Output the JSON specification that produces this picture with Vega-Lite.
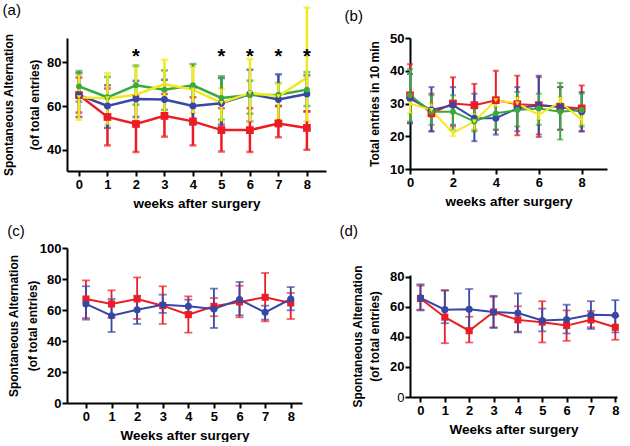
{
  "$schema": "https://vega.github.io/schema/vega-lite/v6.json",
  "padding": {"left": 2, "top": 3, "right": 0, "bottom": 0},
  "data": {"values": [
    {"p":"a","g":"G1","w":0,"m":65,"lo":57,"hi":73},
    {"p":"a","g":"G1","w":1,"m":55,"lo":42,"hi":68},
    {"p":"a","g":"G1","w":2,"m":51.8,"lo":39,"hi":64.5},
    {"p":"a","g":"G1","w":3,"m":55.5,"lo":46,"hi":65.5},
    {"p":"a","g":"G1","w":4,"m":53,"lo":42,"hi":64},
    {"p":"a","g":"G1","w":5,"m":49,"lo":39.2,"hi":59},
    {"p":"a","g":"G1","w":6,"m":49,"lo":39,"hi":59},
    {"p":"a","g":"G1","w":7,"m":52,"lo":45.7,"hi":60},
    {"p":"a","g":"G1","w":8,"m":50,"lo":40,"hi":57.6},
    {"p":"a","g":"G2","w":0,"m":65,"lo":55,"hi":75},
    {"p":"a","g":"G2","w":1,"m":60,"lo":50,"hi":69.5},
    {"p":"a","g":"G2","w":2,"m":63.2,"lo":55,"hi":71.5},
    {"p":"a","g":"G2","w":3,"m":63,"lo":54.5,"hi":72},
    {"p":"a","g":"G2","w":4,"m":60,"lo":51.5,"hi":68.5},
    {"p":"a","g":"G2","w":5,"m":61.3,"lo":51.5,"hi":72.8},
    {"p":"a","g":"G2","w":6,"m":65.5,"lo":53,"hi":76.6},
    {"p":"a","g":"G2","w":7,"m":63,"lo":51.5,"hi":74.5},
    {"p":"a","g":"G2","w":8,"m":65.5,"lo":57.5,"hi":74},
    {"p":"a","g":"G3","w":0,"m":69,"lo":62,"hi":76},
    {"p":"a","g":"G3","w":1,"m":64,"lo":55,"hi":73.3},
    {"p":"a","g":"G3","w":2,"m":69.5,"lo":60.6,"hi":78.5},
    {"p":"a","g":"G3","w":3,"m":67.5,"lo":58.3,"hi":76.3},
    {"p":"a","g":"G3","w":4,"m":69.5,"lo":60,"hi":79.2},
    {"p":"a","g":"G3","w":5,"m":63.7,"lo":53.7,"hi":73.6},
    {"p":"a","g":"G3","w":6,"m":65,"lo":56.5,"hi":71.6},
    {"p":"a","g":"G3","w":7,"m":65.2,"lo":60,"hi":70.5},
    {"p":"a","g":"G3","w":8,"m":67.5,"lo":60,"hi":75.5},
    {"p":"a","g":"G4","w":0,"m":64,"lo":53.7,"hi":74.4},
    {"p":"a","g":"G4","w":1,"m":63.5,"lo":51.5,"hi":75},
    {"p":"a","g":"G4","w":2,"m":65.2,"lo":52,"hi":78},
    {"p":"a","g":"G4","w":3,"m":70,"lo":57,"hi":81.2},
    {"p":"a","g":"G4","w":4,"m":67.5,"lo":56.8,"hi":78},
    {"p":"a","g":"G4","w":5,"m":61.4,"lo":53,"hi":68},
    {"p":"a","g":"G4","w":6,"m":66,"lo":53,"hi":81.5},
    {"p":"a","g":"G4","w":7,"m":64.5,"lo":54,"hi":70.5},
    {"p":"a","g":"G4","w":8,"m":73,"lo":53,"hi":105},

    {"p":"b","g":"G1","w":0,"m":32.5,"lo":24,"hi":42},
    {"p":"b","g":"G1","w":1,"m":27,"lo":21.5,"hi":33},
    {"p":"b","g":"G1","w":2,"m":30,"lo":23,"hi":38},
    {"p":"b","g":"G1","w":3,"m":29.5,"lo":22,"hi":36},
    {"p":"b","g":"G1","w":4,"m":31,"lo":22,"hi":40},
    {"p":"b","g":"G1","w":5,"m":29.8,"lo":20.3,"hi":38.5},
    {"p":"b","g":"G1","w":6,"m":29.5,"lo":19.8,"hi":38},
    {"p":"b","g":"G1","w":7,"m":29,"lo":22,"hi":35},
    {"p":"b","g":"G1","w":8,"m":28.5,"lo":21.5,"hi":35.5},
    {"p":"b","g":"G2","w":0,"m":31.5,"lo":24,"hi":39},
    {"p":"b","g":"G2","w":1,"m":28,"lo":21.5,"hi":35},
    {"p":"b","g":"G2","w":2,"m":29.5,"lo":23.5,"hi":35},
    {"p":"b","g":"G2","w":3,"m":25.5,"lo":18.5,"hi":33},
    {"p":"b","g":"G2","w":4,"m":25.5,"lo":20.5,"hi":31},
    {"p":"b","g":"G2","w":5,"m":28.5,"lo":21.5,"hi":35},
    {"p":"b","g":"G2","w":6,"m":29.5,"lo":20.5,"hi":38.5},
    {"p":"b","g":"G2","w":7,"m":29,"lo":22,"hi":35},
    {"p":"b","g":"G2","w":8,"m":27.5,"lo":21.5,"hi":33.5},
    {"p":"b","g":"G3","w":0,"m":32.5,"lo":24.5,"hi":40.5},
    {"p":"b","g":"G3","w":1,"m":27.5,"lo":23.5,"hi":32.5},
    {"p":"b","g":"G3","w":2,"m":27.5,"lo":22,"hi":32.5},
    {"p":"b","g":"G3","w":3,"m":24.5,"lo":21.5,"hi":28.5},
    {"p":"b","g":"G3","w":4,"m":27,"lo":22,"hi":31.5},
    {"p":"b","g":"G3","w":5,"m":28,"lo":23,"hi":33.5},
    {"p":"b","g":"G3","w":6,"m":28.5,"lo":23.5,"hi":33},
    {"p":"b","g":"G3","w":7,"m":27.5,"lo":19,"hi":36.3},
    {"p":"b","g":"G3","w":8,"m":28,"lo":23,"hi":33},
    {"p":"b","g":"G4","w":0,"m":30,"lo":27,"hi":33},
    {"p":"b","g":"G4","w":1,"m":28,"lo":26,"hi":30},
    {"p":"b","g":"G4","w":2,"m":21,"lo":20,"hi":22},
    {"p":"b","g":"G4","w":3,"m":24.5,"lo":22,"hi":27},
    {"p":"b","g":"G4","w":4,"m":31,"lo":29,"hi":32},
    {"p":"b","g":"G4","w":5,"m":30,"lo":28,"hi":32},
    {"p":"b","g":"G4","w":6,"m":26.5,"lo":25,"hi":28},
    {"p":"b","g":"G4","w":7,"m":30.5,"lo":29,"hi":32},
    {"p":"b","g":"G4","w":8,"m":25,"lo":23.5,"hi":26.5},

    {"p":"c","g":"H1","w":0,"m":67.1,"lo":54.8,"hi":79.1},
    {"p":"c","g":"H1","w":1,"m":63.9,"lo":55,"hi":72.7},
    {"p":"c","g":"H1","w":2,"m":67.1,"lo":54.2,"hi":81},
    {"p":"c","g":"H1","w":3,"m":62.8,"lo":51,"hi":75.3},
    {"p":"c","g":"H1","w":4,"m":57,"lo":45.4,"hi":68.8},
    {"p":"c","g":"H1","w":5,"m":62.4,"lo":56,"hi":67.7},
    {"p":"c","g":"H1","w":6,"m":65.2,"lo":55.3,"hi":75.7},
    {"p":"c","g":"H1","w":7,"m":68.2,"lo":52.7,"hi":83.9},
    {"p":"c","g":"H1","w":8,"m":64.5,"lo":54.2,"hi":71},
    {"p":"c","g":"H2","w":0,"m":63.9,"lo":53.8,"hi":75.3},
    {"p":"c","g":"H2","w":1,"m":56.3,"lo":45.8,"hi":67.1},
    {"p":"c","g":"H2","w":2,"m":60.2,"lo":51,"hi":69.2},
    {"p":"c","g":"H2","w":3,"m":63.4,"lo":58.1,"hi":69.9},
    {"p":"c","g":"H2","w":4,"m":62.4,"lo":58.5,"hi":66.7},
    {"p":"c","g":"H2","w":5,"m":60.6,"lo":48.4,"hi":73.8},
    {"p":"c","g":"H2","w":6,"m":66.7,"lo":56.6,"hi":78.1},
    {"p":"c","g":"H2","w":7,"m":58.5,"lo":53.8,"hi":62.8},
    {"p":"c","g":"H2","w":8,"m":67.1,"lo":59.8,"hi":74.8},

    {"p":"d","g":"H1","w":0,"m":65.4,"lo":58,"hi":73.9},
    {"p":"d","g":"H1","w":1,"m":53,"lo":35.7,"hi":71},
    {"p":"d","g":"H1","w":2,"m":44,"lo":36.2,"hi":53.3},
    {"p":"d","g":"H1","w":3,"m":56.4,"lo":46.3,"hi":66.5},
    {"p":"d","g":"H1","w":4,"m":51.2,"lo":43.4,"hi":60.2},
    {"p":"d","g":"H1","w":5,"m":49.7,"lo":36.2,"hi":63.6},
    {"p":"d","g":"H1","w":6,"m":47.4,"lo":37.3,"hi":57.5},
    {"p":"d","g":"H1","w":7,"m":51.2,"lo":46.3,"hi":57.1},
    {"p":"d","g":"H1","w":8,"m":46.3,"lo":38,"hi":53.7},
    {"p":"d","g":"H2","w":0,"m":65.8,"lo":57.5,"hi":74.8},
    {"p":"d","g":"H2","w":1,"m":58,"lo":49,"hi":70.6},
    {"p":"d","g":"H2","w":2,"m":58.2,"lo":45,"hi":71.7},
    {"p":"d","g":"H2","w":3,"m":56.4,"lo":45.8,"hi":67.2},
    {"p":"d","g":"H2","w":4,"m":55.7,"lo":42.9,"hi":68.8},
    {"p":"d","g":"H2","w":5,"m":50.8,"lo":43.6,"hi":58.7},
    {"p":"d","g":"H2","w":6,"m":51.5,"lo":42.2,"hi":61.3},
    {"p":"d","g":"H2","w":7,"m":54.6,"lo":45.2,"hi":63.6},
    {"p":"d","g":"H2","w":8,"m":54.2,"lo":42.9,"hi":64.3}
  ]},
  "columns": 2,
  "align": {"row": "none", "column": "each"},
  "spacing": {"row": -8, "column": 13},
  "concat": [
    {
      "width": 259, "height": 133,
      "title": {"text": "(a)", "dx": 0, "offset": -12},
      "transform": [{"filter": "datum.p === 'a'"}],
      "encoding": {
        "x": {"field": "w", "type": "quantitative", "scale": {"domain": [-0.42, 8.67], "nice": false, "zero": false}, "axis": {"values": [0,1,2,3,4,5,6,7,8], "format": "d", "title": "weeks after surgery"}},
        "y": {"field": "m", "type": "quantitative", "scale": {"domain": [30.3, 91.1], "nice": false, "zero": false}, "axis": {"values": [40,60,80], "tickCount": 20, "format": "d", "titleLineHeight": 26, "titlePadding": 5, "title": ["Spontaneous Alternation", "(of total entries)"]}},
        "color": {"field": "g", "type": "nominal", "scale": {"domain": ["G1","G2","G3","G4"], "range": ["#ed1c24","#3747a6","#3aaa3a","#f3e81e"]}, "legend": null}
      },
      "layer": [
        {"mark": {"type": "line", "strokeWidth": 2.5}},
        {"mark": {"type": "errorbar", "ticks": {"size": 7, "thickness": 2.5}, "rule": {"strokeWidth": 2.5}, "clip": false},
         "encoding": {"y": {"field": "lo", "type": "quantitative", "scale": {"domain": [30.3, 91.1], "nice": false, "zero": false}, "axis": {"values": [40,60,80], "tickCount": 20, "format": "d", "titleLineHeight": 26, "titlePadding": 5, "title": ["Spontaneous Alternation", "(of total entries)"]}}, "y2": {"field": "hi"}}},
        {"mark": {"type": "point", "filled": true, "opacity": 1},
         "encoding": {
           "shape": {"field": "g", "type": "nominal", "scale": {"domain": ["G1","G2","G3","G4"], "range": ["square","circle","circle","triangle-down"]}, "legend": null},
           "size": {"field": "g", "type": "nominal", "scale": {"domain": ["G1","G2","G3","G4"], "range": [60,22,60,35]}, "legend": null}}},
        {"data": {"values": [{"p":"a","w":2,"y":83.7},{"p":"a","w":5,"y":83.7},{"p":"a","w":6,"y":83.7},{"p":"a","w":7,"y":83.7},{"p":"a","w":8,"y":83.7}]},
         "mark": {"type": "text", "text": "*", "fontSize": 20, "fontWeight": "bold", "baseline": "middle", "dy": 3},
         "encoding": {"y": {"field": "y", "type": "quantitative", "scale": {"domain": [30.3, 91.1], "nice": false, "zero": false}, "axis": {"values": [40,60,80], "tickCount": 20, "format": "d", "titleLineHeight": 26, "titlePadding": 5, "title": ["Spontaneous Alternation", "(of total entries)"]}}, "color": {"value": "#000"}}}
      ]
    },
    {
      "width": 197, "height": 131,
      "title": {"text": "(b)", "dx": -24, "offset": 8},
      "transform": [{"filter": "datum.p === 'b'"}],
      "encoding": {
        "x": {"field": "w", "type": "quantitative", "scale": {"domain": [0, 9.18], "nice": false, "zero": false}, "axis": {"values": [0,2,4,6,8], "format": "d", "titleLineHeight": 24, "title": ["weeks after surgery", " "]}},
        "y": {"field": "m", "type": "quantitative", "scale": {"domain": [10, 50], "nice": false, "zero": false}, "axis": {"values": [10,20,30,40,50], "tickCount": 20, "format": "d", "titlePadding": 8, "title": "Total entries in 10 min"}},
        "color": {"field": "g", "type": "nominal", "scale": {"domain": ["G1","G2","G3","G4"], "range": ["#ed1c24","#3747a6","#3aaa3a","#f3e81e"]}, "legend": null}
      },
      "layer": [
        {"mark": {"type": "line", "strokeWidth": 2}},
        {"mark": {"type": "errorbar", "ticks": {"size": 6, "thickness": 2}, "rule": {"strokeWidth": 2}},
         "encoding": {"y": {"field": "lo", "type": "quantitative", "scale": {"domain": [10, 50], "nice": false, "zero": false}, "axis": {"values": [10,20,30,40,50], "tickCount": 20, "format": "d", "titlePadding": 8, "title": "Total entries in 10 min"}}, "y2": {"field": "hi"}}},
        {"mark": {"type": "point", "filled": true, "opacity": 1},
         "encoding": {
           "shape": {"field": "g", "type": "nominal", "scale": {"domain": ["G1","G2","G3","G4"], "range": ["square","circle","circle","triangle-down"]}, "legend": null},
           "size": {"field": "g", "type": "nominal", "scale": {"domain": ["G1","G2","G3","G4"], "range": [25,20,30,22]}, "legend": null}}}
      ]
    },
    {
      "width": 235, "height": 155,
      "title": {"text": "(c)", "dx": 0, "offset": 3},
      "transform": [{"filter": "datum.p === 'c'"}],
      "encoding": {
        "x": {"field": "w", "type": "quantitative", "scale": {"domain": [-0.74, 8.44], "nice": false, "zero": false}, "axis": {"values": [0,1,2,3,4,5,6,7,8], "format": "d", "title": "Weeks after surgery"}},
        "y": {"field": "m", "type": "quantitative", "scale": {"domain": [0, 100], "nice": false, "zero": false}, "axis": {"values": [0,20,40,60,80,100], "tickCount": 20, "format": "d", "titleLineHeight": 19, "titlePadding": 0, "title": ["Spontaneous Alternation", "(of total entries)"]}},
        "color": {"field": "g", "type": "nominal", "scale": {"domain": ["H1","H2"], "range": ["#ed1c24","#1f1f6e"]}, "legend": null}
      },
      "layer": [
        {"mark": {"type": "line", "strokeWidth": 2}},
        {"mark": {"type": "errorbar", "ticks": {"size": 8, "thickness": 1.8}, "rule": {"strokeWidth": 1.8}},
         "encoding": {"y": {"field": "lo", "type": "quantitative", "scale": {"domain": [0, 100], "nice": false, "zero": false}, "axis": {"values": [0,20,40,60,80,100], "tickCount": 20, "format": "d", "titleLineHeight": 19, "titlePadding": 0, "title": ["Spontaneous Alternation", "(of total entries)"]}}, "y2": {"field": "hi"}}},
        {"mark": {"type": "point", "filled": true, "opacity": 1},
         "encoding": {
           "shape": {"field": "g", "type": "nominal", "scale": {"domain": ["H1","H2"], "range": ["square","circle"]}, "legend": null},
           "size": {"value": 50}}}
      ]
    },
    {
      "width": 207, "height": 122,
      "title": {"text": "(d)", "dx": -12, "offset": 25.5},
      "transform": [{"filter": "datum.p === 'd'"}],
      "encoding": {
        "x": {"field": "w", "type": "quantitative", "scale": {"domain": [-0.43, 8.07], "nice": false, "zero": false}, "axis": {"values": [0,1,2,3,4,5,6,7,8], "format": "d", "title": "Weeks after surgery"}},
        "y": {"field": "m", "type": "quantitative", "scale": {"domain": [0, 81], "nice": false, "zero": false}, "axis": {"values": [0,20,40,60,80], "tickCount": 20, "format": "d", "titleLineHeight": 17, "titlePadding": 8, "title": ["Spontaneous Alternation", "(of total entries)"], "labelFontWeight": {"condition": {"test": "datum.value === 0", "value": "normal"}, "value": "bold"}}},
        "color": {"field": "g", "type": "nominal", "scale": {"domain": ["H1","H2"], "range": ["#ed1c24","#1f1f6e"]}, "legend": null}
      },
      "layer": [
        {"mark": {"type": "line", "strokeWidth": 2}},
        {"mark": {"type": "errorbar", "ticks": {"size": 8, "thickness": 1.8}, "rule": {"strokeWidth": 1.8}},
         "encoding": {"y": {"field": "lo", "type": "quantitative", "scale": {"domain": [0, 81], "nice": false, "zero": false}, "axis": {"values": [0,20,40,60,80], "tickCount": 20, "format": "d", "titleLineHeight": 17, "titlePadding": 8, "title": ["Spontaneous Alternation", "(of total entries)"], "labelFontWeight": {"condition": {"test": "datum.value === 0", "value": "normal"}, "value": "bold"}}}, "y2": {"field": "hi"}}},
        {"mark": {"type": "point", "filled": true, "opacity": 1},
         "encoding": {
           "shape": {"field": "g", "type": "nominal", "scale": {"domain": ["H1","H2"], "range": ["square","circle"]}, "legend": null},
           "size": {"value": 50}}}
      ]
    }
  ],
  "config": {
    "font": "Liberation Sans",
    "view": {"stroke": null},
    "axis": {"grid": false, "domainColor": "#000", "domainWidth": 2, "tickColor": "#000", "tickWidth": 2, "tickSize": 5, "labelColor": "#000", "labelFont": "Liberation Sans", "labelFontSize": 13, "labelFontWeight": "bold", "labelPadding": 2, "labelFlush": false, "labelOverlap": false, "titleColor": "#000", "titleFont": "Liberation Sans", "titleFontWeight": "bold", "titleFontSize": 13},
    "axisY": {"titleFontSize": 12, "titlePadding": 4, "labelPadding": 1},
    "axisX": {"titleFontSize": 13.5, "titlePadding": 5},
    "title": {"font": "Liberation Sans", "fontSize": 15, "fontWeight": "normal", "color": "#000", "anchor": "start", "frame": "bounds"}
  }
}
